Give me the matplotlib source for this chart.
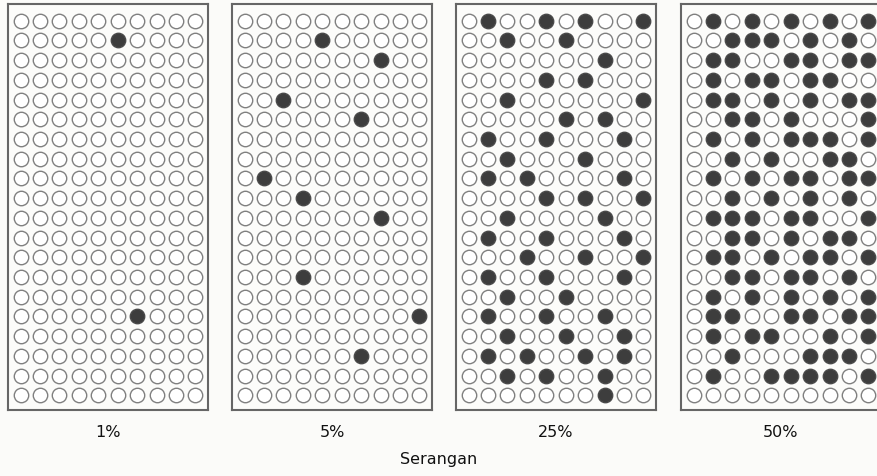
import matplotlib
matplotlib.use("Agg")
import matplotlib.pyplot as plt
import numpy as np

# --- data: 20 rows x 10 columns per panel, "1" = attacked (filled) ---
labels = ["1%", "5%", "25%", "50%"]
xlabel = "Serangan"

grid_1 = ["0000000000", "0000010000", "0000000000", "0000000000", "0000000000",
          "0000000000", "0000000000", "0000000000", "0000000000", "0000000000",
          "0000000000", "0000000000", "0000000000", "0000000000", "0000000000",
          "0000001000", "0000000000", "0000000000", "0000000000", "0000000000"]

grid_5 = ["0000000000", "0000100000", "0000000100", "0000000000", "0010000000",
          "0000001000", "0000000000", "0000000000", "0100000000", "0001000000",
          "0000000100", "0000000000", "0000000000", "0001000000", "0000000000",
          "0000000001", "0000000000", "0000001000", "0000000000", "0000000000"]

grid_25 = ["0100101001", "0010010000", "0000000100", "0000101000", "0010000001",
           "0000010100", "0100100010", "0010001000", "0101000010", "0000101001",
           "0010000100", "0100100010", "0001001001", "0100100010", "0010010000",
           "0100100100", "0010010010", "0101001010", "0010100100", "0000000100"]

grid_50 = ["0101010101", "0011101010", "0110011011", "0101101100", "0110101011",
           "0011010001", "0101011101", "0010100110", "0101011011", "0010101010",
           "0111011001", "0011010110", "0110101101", "0011011010", "0101010101",
           "0110011011", "0101100101", "0010001110", "0100111101", "0000000000"]

grids = [grid_1, grid_5, grid_25, grid_50]

W, H = 878, 477
fig = plt.figure(figsize=(W / 100, H / 100), dpi=100)
fig.patch.set_facecolor("#fbfbf9")

lefts = [8, 232, 456, 681]
top, bottom = 5, 411
pw = 200

for i, grid in enumerate(grids):
    ax = fig.add_axes([lefts[i] / W, 1 - bottom / H, pw / W, (bottom - top) / H])
    ax.set_facecolor("#fcfcfa")
    cells = np.array([[int(c) for c in row] for row in grid])
    rr, cc = np.indices(cells.shape)
    filled = cells.ravel() == 1
    # hollow (not attacked) and filled (attacked) circles
    ax.scatter(cc.ravel()[~filled], rr.ravel()[~filled], s=108, facecolors="white",
               edgecolors="#808080", linewidths=1.0, zorder=2)
    ax.scatter(cc.ravel()[filled], rr.ravel()[filled], s=108, facecolors="#3d3d3d",
               edgecolors="#4a4a4a", linewidths=1.0, zorder=3)
    ax.set_xlim(-0.65, 9.65)
    ax.set_ylim(19.75, -0.85)
    ax.set_xticks([])
    ax.set_yticks([])
    for sp in ax.spines.values():
        sp.set_color("#666666")
        sp.set_linewidth(1.5)
    fig.text((lefts[i] + pw / 2) / W, 1 - 433 / H, labels[i], ha="center", va="center",
             fontsize=11.5, color="#111111")

fig.text(439 / W, 1 - 460 / H, xlabel, ha="center", va="center", fontsize=11.5, color="#111111")

fig.savefig("out.png", dpi=100, facecolor=fig.get_facecolor())
